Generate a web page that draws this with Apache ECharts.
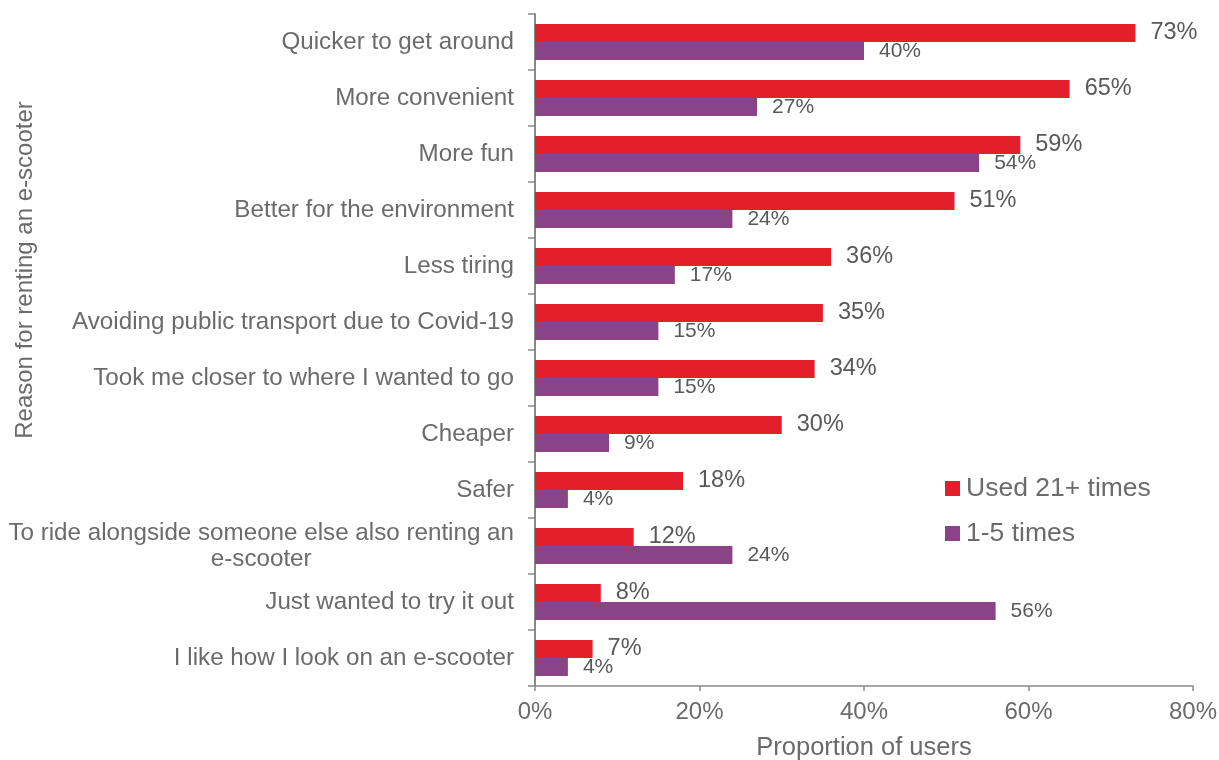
<!DOCTYPE html>
<html>
<head>
<meta charset="utf-8">
<title>Reasons for renting an e-scooter</title>
<script src="https://cdn.jsdelivr.net/npm/echarts@6/dist/echarts.min.js"></script>
<style>
  html, body { margin: 0; padding: 0; background: #ffffff; }
  #chart { width: 1219px; height: 760px; }
</style>
</head>
<body>
<div id="chart"></div>
<script>
// Reasons given for renting, top to bottom
const categories = [
  'Quicker to get around',
  'More convenient',
  'More fun',
  'Better for the environment',
  'Less tiring',
  'Avoiding public transport due to Covid-19',
  'Took me closer to where I wanted to go',
  'Cheaper',
  'Safer',
  'To ride alongside someone else also renting an\ne-scooter',
  'Just wanted to try it out',
  'I like how I look on an e-scooter'
];

// Share of users (%) by frequency of use
const frequentUsers = [73, 65, 59, 51, 36, 35, 34, 30, 18, 12, 8, 7];
const occasionalUsers = [40, 27, 54, 24, 17, 15, 15, 9, 4, 24, 56, 4];

const seriesNames = ['Used 21+ times', '1-5 times'];
const xTicks = [0, 20, 40, 60, 80];

const FONT = '"Liberation Sans", Arial, Helvetica, sans-serif';
const TEXT = '#6b6b6b';
const VALUE_TEXT = '#595959';
const AXIS = '#898989';

const chart = echarts.init(document.getElementById('chart'), null, { renderer: 'canvas' });

chart.setOption({
  backgroundColor: '#ffffff',
  animation: false,
  textStyle: { fontFamily: FONT },
  grid: {
    left: 535, right: 26, top: 14, bottom: 74,
    containLabel: false,
    outerBoundsMode: 'none'
  },
  legend: {
    orient: 'vertical',
    left: 945,
    top: 475,
    padding: 0,
    icon: 'rect',
    itemWidth: 15,
    itemHeight: 15,
    itemGap: 18,
    data: seriesNames,
    textStyle: { fontFamily: FONT, fontSize: 26.5, lineHeight: 26, color: TEXT, padding: [0, 0, 0, 1] }
  },
  xAxis: {
    type: 'value',
    min: xTicks[0],
    max: xTicks[xTicks.length - 1],
    interval: xTicks[1] - xTicks[0],
    name: 'Proportion of users',
    nameLocation: 'middle',
    nameGap: 49,
    nameTextStyle: { fontFamily: FONT, fontSize: 25.5, color: TEXT },
    axisLine: { show: true, lineStyle: { color: AXIS, width: 1.5 } },
    axisTick: { show: true, length: 5, lineStyle: { color: AXIS, width: 1.5 } },
    axisLabel: {
      margin: 14,
      fontFamily: FONT,
      fontSize: 24,
      color: TEXT,
      formatter: v => v + '%'
    },
    splitLine: { show: false }
  },
  yAxis: {
    type: 'category',
    inverse: true,
    data: categories,
    axisLine: { show: true, lineStyle: { color: AXIS, width: 2 } },
    axisTick: { show: true, length: 7, lineStyle: { color: AXIS, width: 1.5 } },
    axisLabel: {
      margin: 21,
      fontFamily: FONT,
      fontSize: 24.2,
      color: TEXT,
      formatter: v => '{c|' + v.split('\n').join('}\n{c|') + '}',
      rich: {
        c: { align: 'center', fontFamily: FONT, fontSize: 24.2, lineHeight: 26, color: TEXT }
      }
    },
    splitLine: { show: false }
  },
  graphic: [{
    type: 'text',
    x: 25,
    y: 270,
    rotation: Math.PI / 2,
    style: {
      text: 'Reason for renting an e-scooter',
      fontFamily: FONT,
      fontSize: 24,
      fill: TEXT,
      align: 'center',
      verticalAlign: 'middle'
    }
  }],
  series: [
    {
      name: seriesNames[0],
      type: 'bar',
      data: frequentUsers,
      barWidth: 18,
      barGap: '0%',
      itemStyle: { color: '#E31F2C' },
      label: {
        show: true,
        position: 'right',
        distance: 15,
        fontFamily: FONT,
        fontSize: 23.5,
        color: VALUE_TEXT,
        formatter: p => p.value + '%'
      }
    },
    {
      name: seriesNames[1],
      type: 'bar',
      data: occasionalUsers,
      barWidth: 18,
      barGap: '0%',
      itemStyle: { color: '#8A4389' },
      label: {
        show: true,
        position: 'right',
        distance: 15,
        fontFamily: FONT,
        fontSize: 21,
        color: VALUE_TEXT,
        formatter: p => p.value + '%'
      }
    }
  ]
});
</script>
</body>
</html>
